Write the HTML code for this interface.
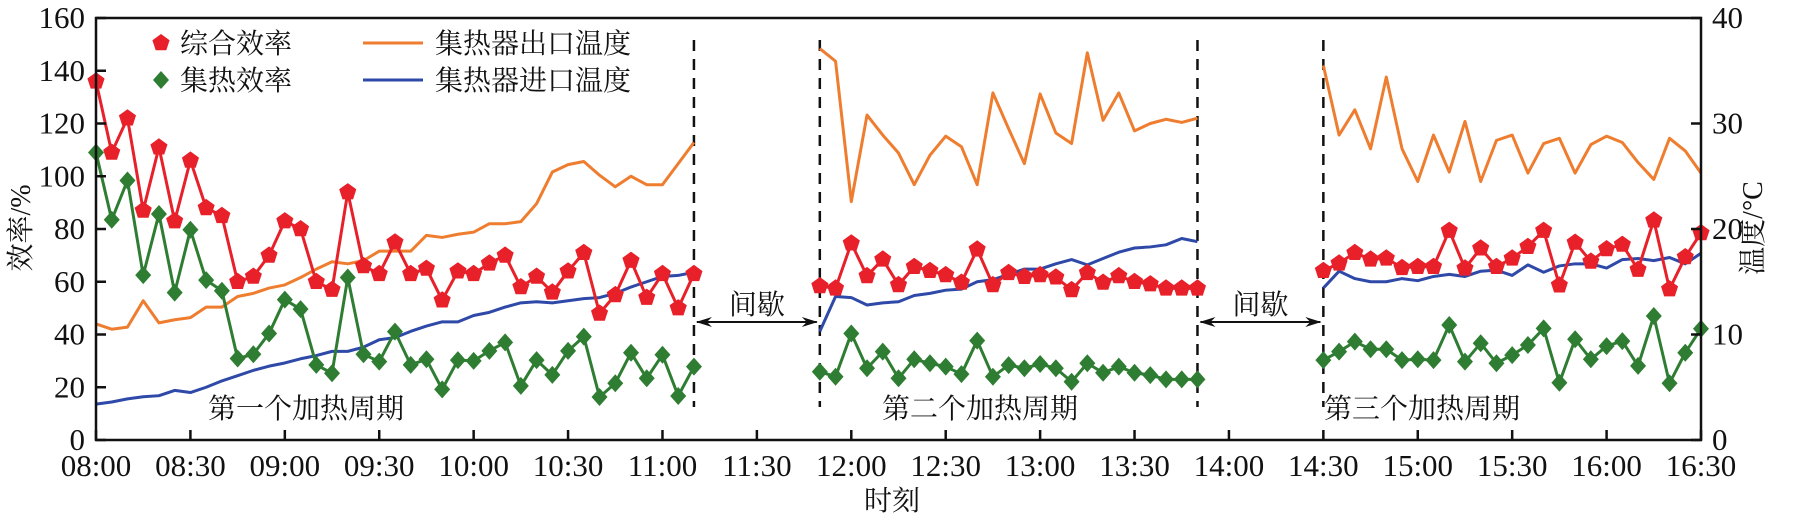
<!DOCTYPE html>
<html><head><meta charset="utf-8">
<style>
html,body{margin:0;padding:0;background:#fff;}
svg{display:block;}
.tk{font-family:"Liberation Serif","Noto Serif CJK SC",serif;font-size:31px;fill:#111;}
.cn{font-family:"Liberation Serif","Noto Serif CJK SC",serif;font-size:28px;fill:#111;}
</style></head>
<body>
<svg id="chart" width="1793" height="517" viewBox="0 0 1793 517" xmlns="http://www.w3.org/2000/svg">
<g id="marks"></g>
</svg>
<script>
// ----- data -----
const segStarts = [0, 230, 390];          // minutes after 08:00
const stepMin = 5;
const compEff1 = [136,109,122,87,111,83,106,88,85,60,62,70,83,80,60,57,94,66,63,75,63,65,53,64,63,67,70,58,62,56,64,71,48,55,68,54,63,50,63];
const heatEff1 = [109,83.5,98.4,62.5,85.7,55.9,79.7,60.6,56.6,30.9,32.5,40.4,53.2,49.6,28.5,25.3,61.6,32.5,29.7,41.1,28.5,30.6,19.2,30.3,30,33.8,37,20.5,30.3,24.7,33.8,39.2,16.3,21.5,33.1,23.4,32.3,16.7,27.8];
const outT1 = [11.0,10.5,10.7,13.2,11.1,11.4,11.6,12.6,12.6,13.6,13.9,14.4,14.7,15.4,16.2,16.9,16.7,17.0,17.9,17.9,17.9,19.4,19.2,19.5,19.7,20.5,20.5,20.7,22.4,25.4,26.1,26.4,25.1,24.0,25.0,24.2,24.2,26.2,28.2];
const inT1 = [3.4,3.6,3.9,4.1,4.2,4.7,4.5,5.0,5.6,6.1,6.6,7.0,7.3,7.7,8.0,8.4,8.4,8.8,9.5,9.7,10.3,10.8,11.2,11.2,11.8,12.1,12.6,13.0,13.1,13.0,13.2,13.4,13.5,13.9,14.5,15.0,15.5,15.6,15.9];
const compEff2 = [58.4,57.5,74.6,62.2,68.5,58.8,65.7,64.2,62.6,59.7,72.3,58.8,63.4,61.9,62.6,61.7,56.9,63.4,59.7,62.2,60.0,59.1,57.5,57.5,57.5];
const heatEff2 = [25.9,24.0,40.4,27.2,33.5,23.4,30.6,29.1,27.8,25.0,37.7,24.0,28.4,27.2,28.8,27.2,22.1,29.1,25.5,27.8,25.5,24.6,23.0,23.0,23.0];
const outT2 = [37.1,35.9,22.6,30.8,28.9,27.2,24.2,27.0,28.8,27.8,24.2,32.9,29.5,26.2,32.8,29.1,28.1,36.7,30.3,32.9,29.3,30.0,30.4,30.1,30.5];
const inT2 = [10.3,13.6,13.5,12.8,13.0,13.1,13.7,13.9,14.2,14.3,15.0,15.2,15.7,16.2,16.2,16.7,17.1,16.6,17.2,17.8,18.2,18.3,18.5,19.1,18.8];
const compEff3 = [64.2,67.0,71.0,68.5,68.9,65.3,65.7,65.7,79.4,65.1,72.7,65.7,68.9,73.3,79.4,58.7,74.9,67.7,72.4,74.1,64.6,83.3,57.2,69.4,78.5];
const heatEff3 = [30.3,33.5,37.3,34.4,34.4,30.3,30.6,30.3,43.6,29.7,36.7,29.1,32.2,36.0,42.3,21.7,38.2,30.6,35.6,37.5,28.1,47.0,21.5,33.1,42.2];
const outT3 = [35.5,28.9,31.3,27.6,34.4,27.6,24.5,28.9,25.4,30.2,24.5,28.4,28.9,25.3,28.1,28.6,25.3,28.0,28.8,28.2,26.3,24.7,28.6,27.4,25.3];
const inT3 = [14.4,16.0,15.3,15.0,15.0,15.3,15.1,15.5,15.7,15.5,16.0,16.1,15.6,16.6,15.9,16.5,16.7,16.7,16.3,17.1,17.2,17.0,17.3,16.7,17.7];
const xTickLabels = ["08:00","08:30","09:00","09:30","10:00","10:30","11:00","11:30","12:00","12:30","13:00","13:30","14:00","14:30","15:00","15:30","16:00","16:30"];
const yLeftTicks = [0,20,40,60,80,100,120,140,160];
const yRightTicks = [0,10,20,30,40];
const boundaryMin = [190, 230, 350, 390];

// ----- axes -----
const L=96, R=1701, T=18, B=440;
const X = t => L + t/510*(R-L);
const YL = v => B - v/160*(B-T);
const YR = v => B - v/40*(B-T);
const NS="http://www.w3.org/2000/svg";
const svg=document.getElementById('chart');
function mk(tag, attrs, parent){const e=document.createElementNS(NS,tag);for(const k in attrs)e.setAttribute(k,attrs[k]);(parent||svg).appendChild(e);return e;}

// dashed boundaries
boundaryMin.forEach((m,i)=>{
  const l=mk('line',{x1:X(m),x2:X(m),y1:40,y2:407,stroke:'#111','stroke-width':2.5,'stroke-dasharray':'11,8'});
  
  
});
// arrows + labels
[[0,1],[2,3]].forEach(([a,b],i)=>{
  const x1=X(boundaryMin[a]), x2=X(boundaryMin[b]), y=322;
  const g=mk('g',{});
  
  
  mk('line',{x1:x1+3,x2:x2-3,y1:y,y2:y,stroke:'#111','stroke-width':2},g);
  mk('path',{d:`M${x1+2},${y} l16,-5 l-5,5 l5,5 z`,fill:'#111'},g);
  mk('path',{d:`M${x2-2},${y} l-16,-5 l5,5 l-5,5 z`,fill:'#111'},g);
  const t=mk('text',{x:(x1+x2)/2,y:314,'text-anchor':'middle',class:'cn'});
  t.textContent='间歇';
  
  
});

// series
const segs=[
 {c:compEff1,h:heatEff1,o:outT1,i:inT1},
 {c:compEff2,h:heatEff2,o:outT2,i:inT2},
 {c:compEff3,h:heatEff3,o:outT3,i:inT3}];
function pts(arr,start,yf){return arr.map((v,k)=>[X(start+k*stepMin),yf(v)]);}
function poly(p,color,name){
  const e=mk('polyline',{points:p.map(q=>q.join(',')).join(' '),fill:'none',stroke:color,'stroke-width':3,'stroke-linejoin':'round'});
  
  
}
function pentagon(x,y,r){let s='';for(let k=0;k<5;k++){const a=-Math.PI/2+k*2*Math.PI/5;s+=(x+r*Math.cos(a)).toFixed(1)+','+(y+r*Math.sin(a)).toFixed(1)+' ';}return s;}
segs.forEach((s,si)=>{
  const st=segStarts[si];
  poly(pts(s.o,st,YR),'#ee7d2f','outlet-temp-line');
  poly(pts(s.i,st,YR),'#2e49a8','inlet-temp-line');
  const hp=pts(s.h,st,YL);
  poly(hp,'#2e7d32','heat-eff-line');
  hp.forEach(p=>{const m=mk('polygon',{points:`${p[0]},${p[1]-9} ${p[0]+8},${p[1]} ${p[0]},${p[1]+9} ${p[0]-8},${p[1]}`,fill:'#2e7d32'});
    
    });
  const cp=pts(s.c,st,YL);
  poly(cp,'#e8202a','comp-eff-line');
  cp.forEach(p=>{const m=mk('polygon',{points:pentagon(p[0],p[1],9),fill:'#e8202a'});
    
    });
});

// axes frame
const fr=mk('rect',{x:L,y:T,width:R-L,height:B-T,fill:'none',stroke:'#111','stroke-width':2.5});


xTickLabels.forEach((lab,k)=>{
  const x=X(k*30);
  mk('line',{x1:x,x2:x,y1:B,y2:B-10,stroke:'#111','stroke-width':2.5});
  const t=mk('text',{x:x,y:476,'text-anchor':'middle',class:'tk'});t.textContent=lab;
  
  
});
yLeftTicks.forEach(v=>{
  const y=YL(v);
  mk('line',{x1:L,x2:L+10,y1:y,y2:y,stroke:'#111','stroke-width':2.5});
  const t=mk('text',{x:85,y:y+10,'text-anchor':'end',class:'tk'});t.textContent=v;
  
  
});
yRightTicks.forEach(v=>{
  const y=YR(v);
  mk('line',{x1:R,x2:R-10,y1:y,y2:y,stroke:'#111','stroke-width':2.5});
  const t=mk('text',{x:1712,y:y+10,'text-anchor':'start',class:'tk'});t.textContent=v;
  
  
});
</script>
<svg width="0" height="0" style="position:absolute"></svg>
<div style="position:absolute;left:0;top:0;width:1793px;height:517px;pointer-events:none;">
<svg width="1793" height="517" style="position:absolute;left:0;top:0">
  <text class="cn" transform="translate(30,228) rotate(-90)" text-anchor="middle" style="font-size:28px">效率/%</text>
  <text class="cn" transform="translate(1762,228) rotate(-90)" text-anchor="middle" style="font-size:28px">温度/°C</text>
  <text class="cn" x="892" y="510" text-anchor="middle" style="font-size:28px">时刻</text>
  <g>
    <polygon points="161,34 169.6,40.2 166.3,50.3 155.7,50.3 152.4,40.2" fill="#e8202a"/>
    <text class="cn" x="180" y="53">综合效率</text>
    <polygon points="161,71 169,80 161,89 153,80" fill="#2e7d32"/>
    <text class="cn" x="180" y="90">集热效率</text>
    <line x1="363" x2="423" y1="43" y2="43" stroke="#ee7d2f" stroke-width="3"/>
    <text class="cn" x="435" y="53">集热器出口温度</text>
    <line x1="363" x2="423" y1="80" y2="80" stroke="#2e49a8" stroke-width="3"/>
    <text class="cn" x="435" y="90">集热器进口温度</text>
  </g>
  <text class="cn" x="208" y="418">第一个加热周期</text>
  <text class="cn" x="882" y="418">第二个加热周期</text>
  <text class="cn" x="1324" y="418">第三个加热周期</text>
</svg>
</div>
</body></html>
